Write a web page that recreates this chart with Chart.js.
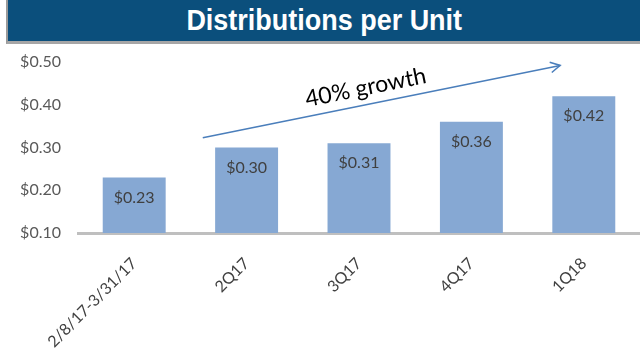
<!DOCTYPE html>
<html>
<head>
<meta charset="utf-8">
<script src="https://cdn.jsdelivr.net/npm/chart.js@4"></script>
<style>
body{margin:0;background:#fff;width:640px;height:351px;overflow:hidden;position:relative}
#title{position:absolute;left:6px;top:0;width:632px;height:41px;background:#0b4f7c;border-left:2px solid #9a9a9a;border-bottom:3px solid #a6a6a6;color:#fff;font-family:"Liberation Sans",Arial,sans-serif;font-weight:bold;font-size:29px;line-height:41px;text-align:center}
#title span{display:inline-block;transform:scaleX(0.93)}
#wrap{position:absolute;left:0;top:0;width:640px;height:351px}
</style>
</head>
<body>
<div id="wrap"><canvas id="c" width="640" height="351"></canvas></div>
<div id="title"><span>Distributions per Unit</span></div>
<script>
const categories=["2/8/17-3/31/17","2Q17","3Q17","4Q17","1Q18"]
const distributions=[0.23,0.30,0.31,0.36,0.42]
const yTicks=[0.10,0.20,0.30,0.40,0.50]

const money=v=>"$"+v.toFixed(2)

// labels inside the bars + the growth arrow
const extras={
id:"extras",
afterDatasetsDraw(chart){
const ctx=chart.ctx
const x=chart.scales.x
const y=chart.scales.y
ctx.save()
ctx.font="16px Lato"
ctx.fillStyle="#404040"
ctx.textAlign="center"
ctx.textBaseline="middle"
chart.getDatasetMeta(0).data.forEach((bar,i)=>{
ctx.fillText(money(distributions[i]),bar.x,bar.y+20)
})

let x1=x.getPixelForValue(0.61),y1=y.getPixelForValue(0.323)
let x2=x.getPixelForValue(3.79),y2=y.getPixelForValue(0.492)
ctx.strokeStyle="#4a7ebb"
ctx.lineWidth=1.5
ctx.beginPath()
ctx.moveTo(x1,y1)
ctx.lineTo(x2,y2)
ctx.stroke()
let a=Math.atan2(y2-y1,x2-x1)
ctx.beginPath()
ctx.moveTo(x2-11*Math.cos(a-0.5),y2-11*Math.sin(a-0.5))
ctx.lineTo(x2,y2)
ctx.lineTo(x2-11*Math.cos(a+0.5),y2-11*Math.sin(a+0.5))
ctx.stroke()

ctx.translate(x.getPixelForValue(2.06),y.getPixelForValue(0.44))
ctx.rotate(a)
ctx.font="23px Lato"
ctx.fillStyle="#000"
ctx.fillText("40% growth",0,0)
ctx.restore()
}
}

new Chart(document.getElementById("c"),{
type:"bar",
data:{
labels:categories,
datasets:[{
data:distributions,
backgroundColor:"#86a8d3",
barPercentage:0.56,
categoryPercentage:1
}]
},
options:{
responsive:false,
animation:false,
devicePixelRatio:1,
layout:{padding:{top:62,left:0,right:0,bottom:0}},
plugins:{legend:{display:false},tooltip:{enabled:false}},
scales:{
x:{
grid:{display:false},
border:{color:"#bfbfbf",width:3},
ticks:{color:"#404040",font:{family:"Lato",size:16},maxRotation:45,minRotation:45,padding:13},
afterFit(s){s.height=118}
},
y:{
min:0.1,
max:0.5,
afterBuildTicks(s){s.ticks=yTicks.map(v=>({value:v}))},
grid:{display:false},
border:{display:false},
ticks:{color:"#595959",font:{family:"Lato",size:16},padding:9,callback:v=>money(v)},
afterFit(s){s.width=78}
}
}
},
plugins:[extras]
})
</script>
</body>
</html>
